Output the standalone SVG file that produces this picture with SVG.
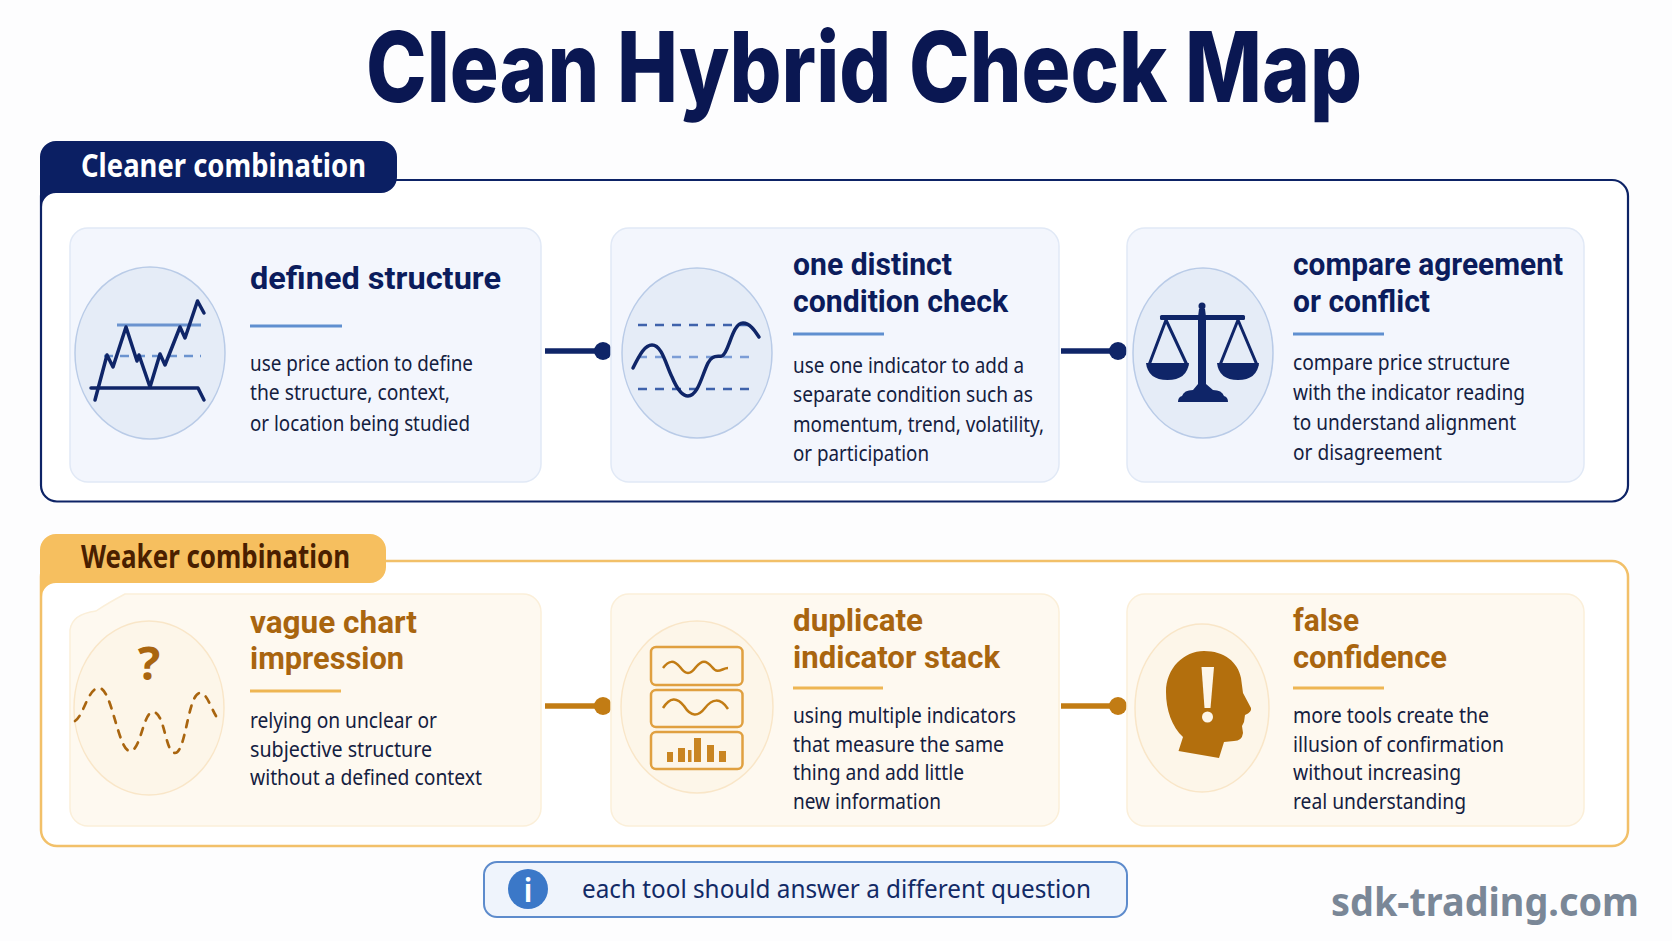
<svg xmlns="http://www.w3.org/2000/svg" width="1672" height="941" viewBox="0 0 1672 941">
<defs>
<style>
text{font-family:"Noto Sans","Open Sans","Liberation Sans",sans-serif}
.title{font-family:Inter,"Liberation Sans",sans-serif;font-size:98px;font-weight:800;fill:#0a1752}
.tab{font-size:32px;font-weight:700}
.h{font-family:Roboto,"Noto Sans",sans-serif;font-size:31px;font-weight:700}
.hb{fill:#0b1c5c}.ho{fill:#a9650f}
.b{font-size:21.500px;fill:#14203f}
.cb{fill:#f3f6fd;stroke:#e1e9f6;stroke-width:1.500}
.co{fill:#fef9f0;stroke:#fbefd9;stroke-width:1.500}
.eb{fill:#e5ecf7;stroke:#b9cbe7;stroke-width:1.500}
.eo{fill:#fdf6e9;stroke:#f9e6c8;stroke-width:1.500}
.sb{stroke:#5f8fd0;stroke-width:3}
.so{stroke:#eeb653;stroke-width:3}
.nv{stroke:#0f2568;fill:none;stroke-linejoin:round;stroke-linecap:round}
.or{stroke:#a9650f;fill:none}
.am{stroke:#e0a040;fill:none;stroke-width:2.500}
</style>
</defs>
<rect width="1672" height="941" fill="#fdfdfe"/>
<g id="title"><text class="title" x="366" y="102" textLength="996" lengthAdjust="spacingAndGlyphs">Clean Hybrid Check Map</text></g>

<g id="panel-cleaner">
<rect x="41" y="180" width="1587" height="321.500" rx="16" fill="#fff" stroke="#0d2366" stroke-width="2.200"/>
<path d="M40 204V157a16 16 0 0 1 16-16H381a16 16 0 0 1 16 16V177a16 16 0 0 1-16 16H56a14 14 0 0 0-14 14Z" fill="#0b1f63"/>
<text class="tab" x="81" y="177" fill="#fff" textLength="285" lengthAdjust="spacingAndGlyphs">Cleaner combination</text>
</g>
<g id="panel-weaker">
<rect x="41" y="561" width="1587" height="285" rx="16" fill="#fff" stroke="#f2c069" stroke-width="2.500"/>
<path d="M40 595V550a16 16 0 0 1 16-16H370a16 16 0 0 1 16 16V567a16 16 0 0 1-16 16H56a14 14 0 0 0-14 14Z" fill="#f6bf5f"/>
<text class="tab" x="81" y="568" fill="#4a1f00" textLength="269" lengthAdjust="spacingAndGlyphs">Weaker combination</text>
</g>

<g id="connectors">
<path d="M545 351H603" stroke="#0f2568" stroke-width="5.500" fill="none"/><circle cx="603" cy="351" r="9" fill="#0f2568"/>
<path d="M1061 351H1118" stroke="#0f2568" stroke-width="5.500" fill="none"/><circle cx="1118" cy="351" r="9" fill="#0f2568"/>
<path d="M545 706H603" stroke="#c27c14" stroke-width="5.500" fill="none"/><circle cx="603" cy="706" r="9" fill="#c27c14"/>
<path d="M1061 706H1118" stroke="#c27c14" stroke-width="5.500" fill="none"/><circle cx="1118" cy="706" r="9" fill="#c27c14"/>
</g>

<g id="node-defined-structure">
<rect class="cb" x="70" y="228" width="471" height="254" rx="18"/>
<ellipse class="eb" cx="150" cy="353" rx="75" ry="86"/>
<path d="M117 325H201" stroke="#6b93cf" stroke-width="3"/>
<path d="M104 356H201" stroke="#6b93cf" stroke-width="2.500" stroke-dasharray="9 7"/>
<path class="nv" stroke-width="3.500" d="M91 388H198L204 400"/>
<path class="nv" stroke-width="3.500" d="M95 400L107 355L113 367L126 327L137 361L139 355L150 387L160 354L165 365L180 327L185 338L197.500 301L204 313"/>
<text class="h hb" x="250" y="289" textLength="251" lengthAdjust="spacingAndGlyphs">defined structure</text>
<path class="sb" d="M250 326H342"/>
<text class="b" x="250" y="371" textLength="223" lengthAdjust="spacingAndGlyphs">use price action to define</text>
<text class="b" x="250" y="400" textLength="200" lengthAdjust="spacingAndGlyphs">the structure, context,</text>
<text class="b" x="250" y="431" textLength="220" lengthAdjust="spacingAndGlyphs">or location being studied</text>
</g>

<g id="node-one-distinct">
<rect class="cb" x="611" y="228" width="448" height="254" rx="18"/>
<ellipse class="eb" cx="697" cy="353" rx="75" ry="85"/>
<path d="M638 325H756M638 389H756" stroke="#3f62ab" stroke-width="2.500" stroke-dasharray="9 8"/>
<path d="M638 357H756" stroke="#7c9dd6" stroke-width="2.500" stroke-dasharray="9 8"/>
<path class="nv" stroke-width="3.500" d="M633 368C640 354 645 345 652 345C662 345 666 365 672 377C677 389 682 396 688 396C698 396 702 375 708 363C712 355 716 357 722 356C729 353 732 323 743 323C750 323 755 331 759 337"/>
<text class="h hb" x="793" y="275" textLength="159" lengthAdjust="spacingAndGlyphs">one distinct</text>
<text class="h hb" x="793" y="311.500" textLength="215" lengthAdjust="spacingAndGlyphs">condition check</text>
<path class="sb" d="M793 334H884"/>
<text class="b" x="793" y="373" textLength="231" lengthAdjust="spacingAndGlyphs">use one indicator to add a</text>
<text class="b" x="793" y="402" textLength="240" lengthAdjust="spacingAndGlyphs">separate condition such as</text>
<text class="b" x="793" y="432" textLength="251" lengthAdjust="spacingAndGlyphs">momentum, trend, volatility,</text>
<text class="b" x="793" y="461" textLength="136" lengthAdjust="spacingAndGlyphs">or participation</text>
</g>

<g id="node-compare">
<rect class="cb" x="1127" y="228" width="457" height="254" rx="18"/>
<ellipse class="eb" cx="1203" cy="353" rx="70" ry="85"/>
<g fill="#0f2568">
<circle cx="1202" cy="306" r="3.500"/>
<path d="M1199 309H1205L1206 317V384L1213 390Q1222 390 1224 396Q1228 397 1228 402H1178Q1178 397 1182 396Q1184 390 1193 390L1198 384V317Z"/>
<rect x="1160" y="315" width="85" height="5" rx="1.500"/>
<path d="M1146 363H1189Q1187 380 1167.500 380T1146 363Z"/>
<path d="M1217 363H1259Q1257 380 1238 380T1217 363Z"/>
</g>
<path class="nv" stroke-width="3" d="M1149 365L1166 320L1187 365M1220 365L1238 320L1257 365"/>
<text class="h hb" x="1293" y="275" textLength="270" lengthAdjust="spacingAndGlyphs">compare agreement</text>
<text class="h hb" x="1293" y="311.500" textLength="137" lengthAdjust="spacingAndGlyphs">or conflict</text>
<path class="sb" d="M1293 334H1384"/>
<text class="b" x="1293" y="370" textLength="217" lengthAdjust="spacingAndGlyphs">compare price structure</text>
<text class="b" x="1293" y="400" textLength="232" lengthAdjust="spacingAndGlyphs">with the indicator reading</text>
<text class="b" x="1293" y="430" textLength="223" lengthAdjust="spacingAndGlyphs">to understand alignment</text>
<text class="b" x="1293" y="460" textLength="149" lengthAdjust="spacingAndGlyphs">or disagreement</text>
</g>

<g id="node-vague">
<path class="co" d="M125 594H523a18 18 0 0 1 18 18V808a18 18 0 0 1-18 18H88a18 18 0 0 1-18-18V630Q72 614 96 611Q108 603 125 594Z"/>
<ellipse class="eo" cx="149" cy="708" rx="75" ry="87"/>
<text x="149" y="680" text-anchor="middle" font-size="47" font-weight="700" fill="#a9650f">?</text>
<path class="or" stroke-width="2.700" stroke-dasharray="7 8" stroke-linecap="round" d="M75 721C84 715 88 688 99 688C112 688 118 751 130 751C141 751 143 712 153 712C165 712 165 753 175 753C186 753 188 693 200 693C209 693 213 718 221 721"/>
<text class="h ho" x="250" y="632.500" textLength="167" lengthAdjust="spacingAndGlyphs">vague chart</text>
<text class="h ho" x="250" y="669" textLength="154" lengthAdjust="spacingAndGlyphs">impression</text>
<path class="so" d="M250 691H341"/>
<text class="b" x="250" y="728" textLength="187" lengthAdjust="spacingAndGlyphs">relying on unclear or</text>
<text class="b" x="250" y="757" textLength="182" lengthAdjust="spacingAndGlyphs">subjective structure</text>
<text class="b" x="250" y="785" textLength="232" lengthAdjust="spacingAndGlyphs">without a defined context</text>
</g>

<g id="node-duplicate">
<rect class="co" x="611" y="594" width="448" height="232" rx="18"/>
<ellipse class="eo" cx="697" cy="707" rx="76" ry="86"/>
<rect class="am" x="651" y="647" width="91.500" height="38" rx="5"/>
<rect class="am" x="651" y="690" width="91.500" height="37" rx="5"/>
<rect class="am" x="651" y="732" width="91.500" height="37" rx="5"/>
<path d="M663 668C669 660 674 660 680 667C686 675 690 675 696 667C702 660 706 660 712 667C718 675 722 668 728 668" stroke="#c27c14" stroke-width="2.500" fill="none"/>
<path d="M663 708C670 697 677 697 684 706C691 717 698 717 705 708C712 699 720 697 728 709" stroke="#c27c14" stroke-width="2.500" fill="none"/>
<path fill="#c98522" d="M667 752h6v10h-6zM678 748h7v14h-7zM688 750h3.500v12h-3.500zM694 738h7v24h-7zM707 745h7v17h-7zM719 751h7v11h-7z"/>
<text class="h ho" x="793" y="631" textLength="130" lengthAdjust="spacingAndGlyphs">duplicate</text>
<text class="h ho" x="793" y="667.500" textLength="207" lengthAdjust="spacingAndGlyphs">indicator stack</text>
<path class="so" d="M793 688H883"/>
<text class="b" x="793" y="723" textLength="223" lengthAdjust="spacingAndGlyphs">using multiple indicators</text>
<text class="b" x="793" y="752" textLength="211" lengthAdjust="spacingAndGlyphs">that measure the same</text>
<text class="b" x="793" y="780" textLength="171" lengthAdjust="spacingAndGlyphs">thing and add little</text>
<text class="b" x="793" y="809" textLength="148" lengthAdjust="spacingAndGlyphs">new information</text>
</g>

<g id="node-false-confidence">
<rect class="co" x="1127" y="594" width="457" height="232" rx="18"/>
<ellipse class="eo" cx="1202" cy="708" rx="67" ry="84"/>
<path fill="#b36f0d" d="M1178.500 751L1183 737C1172 727 1166 710 1166 692C1166 668 1184 651 1204 651C1224 651 1238 662 1241 678L1243 693L1251 708Q1252 712 1245 715L1244 722L1242 726L1243 733Q1242 741 1234 741L1224 742L1219 758Z"/>
<path fill="#fdf6e9" d="M1201.500 667H1214L1210.500 708H1204.500Z"/>
<circle cx="1207.500" cy="717" r="5.500" fill="#fdf6e9"/>
<text class="h ho" x="1293" y="631" textLength="66" lengthAdjust="spacingAndGlyphs">false</text>
<text class="h ho" x="1293" y="667.500" textLength="154" lengthAdjust="spacingAndGlyphs">confidence</text>
<path class="so" d="M1293 688H1384"/>
<text class="b" x="1293" y="723" textLength="196" lengthAdjust="spacingAndGlyphs">more tools create the</text>
<text class="b" x="1293" y="752" textLength="211" lengthAdjust="spacingAndGlyphs">illusion of confirmation</text>
<text class="b" x="1293" y="780" textLength="168" lengthAdjust="spacingAndGlyphs">without increasing</text>
<text class="b" x="1293" y="809" textLength="173" lengthAdjust="spacingAndGlyphs">real understanding</text>
</g>

<g id="callout">
<rect x="484" y="862" width="643" height="55" rx="13" fill="#eff4fc" stroke="#5d8bcc" stroke-width="2"/>
<circle cx="528" cy="889" r="20" fill="#3b78c8"/>
<text x="528" y="902" text-anchor="middle" font-size="32" font-weight="600" fill="#fff">i</text>
<text x="582" y="898" font-size="26px" fill="#122a66" textLength="509" lengthAdjust="spacingAndGlyphs">each tool should answer a different question</text>
</g>
<g id="watermark"><text x="1331" y="916" font-size="40px" font-weight="700" fill="#7a8797" textLength="308" lengthAdjust="spacingAndGlyphs">sdk-trading.com</text></g>
</svg>
